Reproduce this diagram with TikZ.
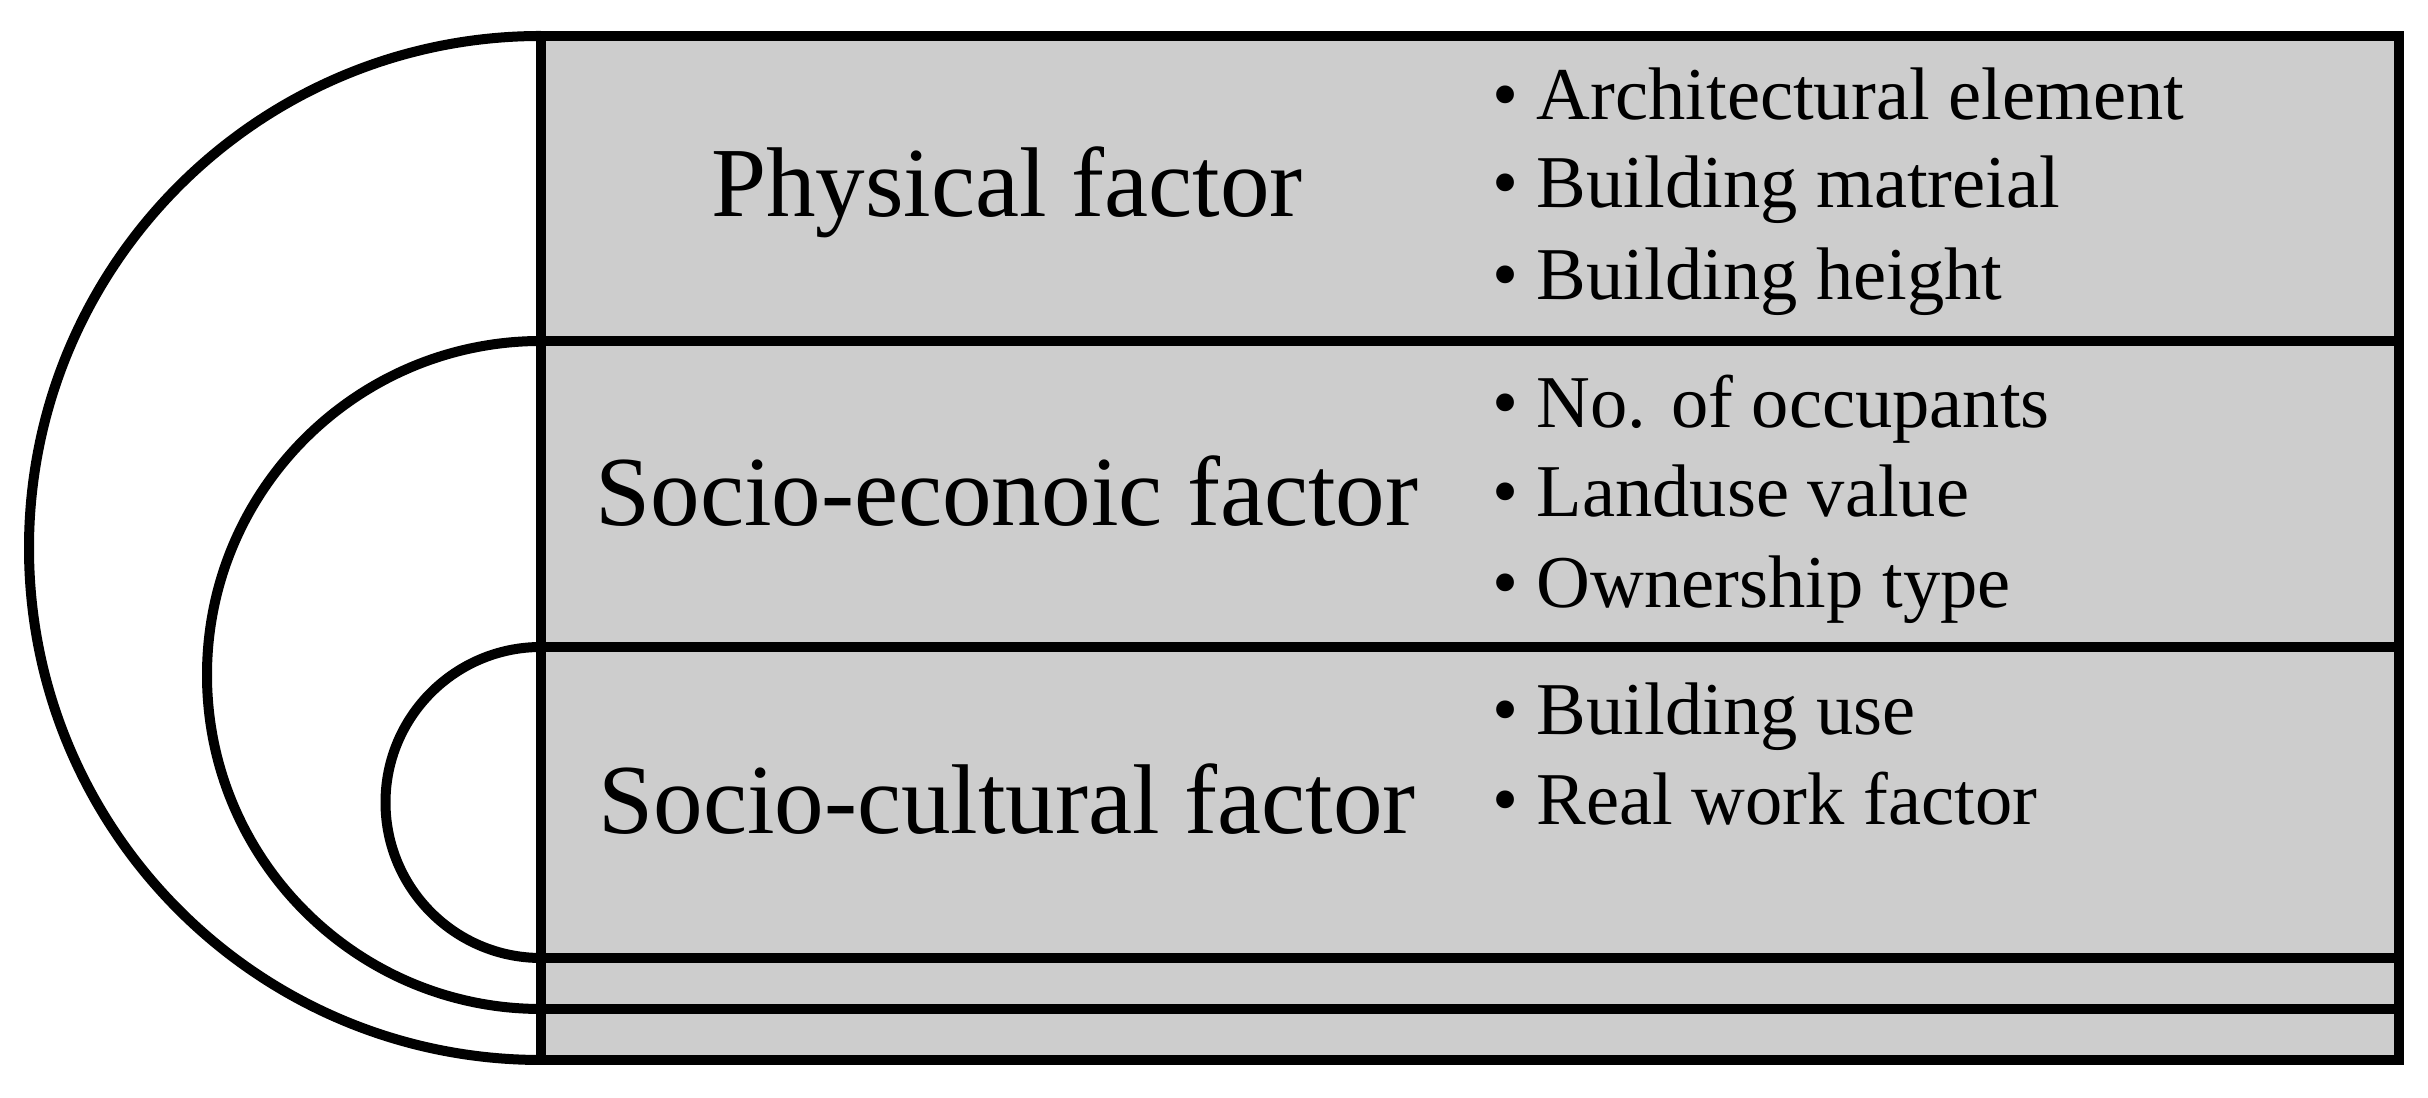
\documentclass[tikz,border=0pt]{standalone}
\usepackage{fontspec}
\setmainfont{Liberation Serif}
\usepackage{tikz}
\definecolor{rowgray}{RGB}{205,205,205}

\begin{document}
\begin{tikzpicture}[line width=0.1cm]
    \tikzstyle{factor}=[anchor=base, inner sep=0pt, font=\fontsize{28.2}{34}\selectfont]
    \tikzstyle{item}=[anchor=base west, inner sep=0pt, font=\fontsize{21.2}{26}\selectfont]
    \useasboundingbox (0,0) rectangle (24.28,10.98);

    % half circles behind the table
    \draw (5.41,10.62) arc[start angle=90, end angle=270, radius=5.12];
    \draw (5.41,7.57) arc[start angle=90, end angle=270, radius=3.34];
    \draw (5.41,4.51) arc[start angle=90, end angle=270, radius=1.555];

    % table
    \draw[fill=rowgray] (5.41,0.38) rectangle (23.99,10.62);
    \draw (5.41,7.57) -- (23.99,7.57);
    \draw (5.41,4.51) -- (23.99,4.51);
    \draw (5.41,1.40) -- (23.99,1.40);
    \draw (5.41,0.89) -- (23.99,0.89);

    \node[factor] (phys) at (10.07,8.81) {Physical factor};
    \node[factor] (econ) at (10.07,5.72) {Socio-econoic factor};
    \node[factor] (cult) at (10.07,2.64) {Socio-cultural factor};

    \node[item] (phys1) at (14.87,9.78) {• Architectural element};
    \node[item] (phys2) at (14.87,8.90) {• Building matreial};
    \node[item] (phys3) at (14.87,7.98) {• Building height};
    \node[item] (econ1) at (14.87,6.70) {• No. of occupants};
    \node[item] (econ2) at (14.87,5.81) {• Landuse value};
    \node[item] (econ3) at (14.87,4.90) {• Ownership type};
    \node[item] (cult1) at (14.87,3.63) {• Building use};
    \node[item] (cult2) at (14.87,2.73) {• Real work factor};
\end{tikzpicture}
\end{document}
